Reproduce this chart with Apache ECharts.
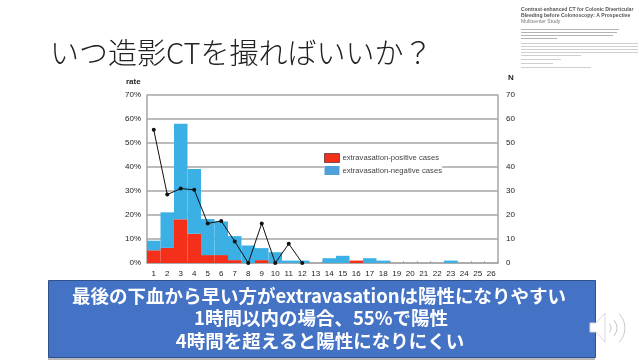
<!DOCTYPE html>
<html>
<head>
<meta charset="utf-8">
<style>
html, body { margin: 0; padding: 0; background: #fff; }
#chart { width: 640px; height: 360px; }
</style>
<script src="https://cdn.jsdelivr.net/npm/echarts@6/dist/echarts.min.js"></script>
</head>
<body>
<div id="chart"></div>
<script>
var hours = ['1','2','3','4','5','6','7','8','9','10','11','12','13','14','15','16','17','18','19','20','21','22','23','24','25','26'];
var positiveCases = [5.3, 6.3, 18.2, 12.2, 3.3, 3.3, 1.2, 0, 1.2, 0, 0, 0, 0, 0, 0, 1, 0, 0, 0, 0, 0, 0, 0, 0, 0, 0];
var negativeCases = [4, 14.8, 39.8, 27, 15, 14, 10, 7.3, 5, 4.5, 1, 1, 0, 2, 3, 0, 2, 1, 0, 0, 0, 0, 1, 0, 0, 0];
var positiveRate = [55.5, 28.5, 31, 30.5, 16.5, 17.5, 9, 0, 16.5, 0, 8, 0];
var bannerLines = ['最後の下血から早い方がextravasationは陽性になりやすい', '1時間以内の場合、55%で陽性', '4時間を超えると陽性になりにくい'];
var paperTitle = ['Contrast-enhanced CT for Colonic Diverticular', 'Bleeding before Colonoscopy: A Prospective'];
var paperTitleEnd = 'Multicenter Study';

var jpFont = '"Noto Sans CJK JP", sans-serif';
var chart = echarts.init(document.getElementById('chart'));

var option = {
    backgroundColor: '#fff',
    animation: false,
    textStyle: { fontFamily: 'Liberation Sans, sans-serif' },
    grid: { left: 147, right: 142, top: 95, bottom: 97 },
    legend: {
        left: 324,
        top: 153,
        padding: 0,
        orient: 'vertical',
        backgroundColor: '#fff',
        itemWidth: 15,
        itemHeight: 9,
        itemGap: 3,
        textStyle: { fontSize: 7.7, color: '#444', padding: [0, 0, 0, -2] },
        data: [
            { name: 'extravasation-positive cases', icon: 'rect', itemStyle: { color: '#f5301a', borderColor: '#7a4a50', borderWidth: 1 } },
            { name: 'extravasation-negative cases', icon: 'rect', itemStyle: { color: '#4f9fd8' } }
        ]
    },
    xAxis: {
        type: 'category',
        data: hours,
        axisLine: { lineStyle: { color: '#a6a6a6', width: 1.5 } },
        axisTick: { show: true, length: 2, inside: true, lineStyle: { color: '#a6a6a6' } },
        axisLabel: { interval: 0, fontSize: 8, color: '#222', margin: 7 }
    },
    yAxis: [
        {
            type: 'value', min: 0, max: 70, interval: 10,
            axisLine: { show: true, lineStyle: { color: '#a6a6a6', width: 1.5 } },
            axisTick: { show: false },
            axisLabel: { formatter: '{value}%', fontSize: 8, color: '#222', margin: 6 },
            splitLine: { lineStyle: { color: '#a6a6a6', width: 1.5 } }
        },
        {
            type: 'value', min: 0, max: 70, interval: 10, position: 'right',
            axisLine: { show: true, lineStyle: { color: '#a6a6a6', width: 1.5 } },
            axisTick: { show: false },
            axisLabel: { fontSize: 8, color: '#222', margin: 8 },
            splitLine: { show: false }
        }
    ],
    series: [
        {
            name: 'extravasation-positive cases',
            type: 'bar',
            stack: 'cases',
            yAxisIndex: 1,
            barWidth: '100%',
            itemStyle: { color: '#f5301a' },
            data: positiveCases
        },
        {
            name: 'extravasation-negative cases',
            type: 'bar',
            stack: 'cases',
            yAxisIndex: 1,
            barWidth: '100%',
            itemStyle: { color: '#3bb0e4' },
            data: negativeCases
        },
        {
            name: 'rate',
            type: 'line',
            yAxisIndex: 0,
            symbol: 'circle',
            symbolSize: 4,
            lineStyle: { color: '#111', width: 1 },
            itemStyle: { color: '#111' },
            data: positiveRate
        }
    ],
    graphic: [
        { type: 'text', x: 50, y: 53, style: { text: 'いつ造影CTを撮ればいいか？', font: '300 29px ' + jpFont, fill: '#222', textVerticalAlign: 'middle' } },
        { type: 'text', left: 126, top: 78, style: { text: 'rate', font: 'bold 8px Liberation Sans', fill: '#222' } },
        { type: 'text', left: 508, top: 74, style: { text: 'N', font: 'bold 8px Liberation Sans', fill: '#222' } },
        { type: 'text', x: 521, y: 10, style: { text: paperTitle[0], font: 'bold 5.1px Liberation Sans', fill: '#555', textVerticalAlign: 'middle' } },
        { type: 'text', x: 521, y: 15.5, style: { text: paperTitle[1], font: 'bold 5.1px Liberation Sans', fill: '#555', textVerticalAlign: 'middle' } },
        { type: 'text', x: 521, y: 21.5, style: { text: paperTitleEnd, font: '5.1px Liberation Sans', fill: '#777', textVerticalAlign: 'middle' } },
        { type: 'rect', z: 4, shape: { x: 48, y: 357, width: 547, height: 3 }, style: { fill: '#b8b8b8' } },
        { type: 'rect', z: 5, shape: { x: 48.5, y: 280.5, width: 547, height: 77 }, style: { fill: '#4472c4', stroke: '#2f528f', lineWidth: 1 } },
        { type: 'text', z: 6, x: 319, y: 296, style: { text: bannerLines[0], font: 'bold 18.5px ' + jpFont, fill: '#fff', textAlign: 'center', textVerticalAlign: 'middle' } },
        { type: 'text', z: 6, x: 321, y: 318, style: { text: bannerLines[1], font: 'bold 18.5px ' + jpFont, fill: '#fff', textAlign: 'center', textVerticalAlign: 'middle' } },
        { type: 'text', z: 6, x: 320, y: 341, style: { text: bannerLines[2], font: 'bold 18.5px ' + jpFont, fill: '#fff', textAlign: 'center', textVerticalAlign: 'middle' } },
        { type: 'polygon', z: 7, shape: { points: [[590, 323], [596, 323], [605, 313], [605, 342], [596, 332], [590, 332]] }, style: { fill: '#fff', stroke: '#d8d8d8' } },
        { type: 'arc', z: 7, shape: { cx: 605, cy: 328, r: 6, startAngle: -0.75, endAngle: 0.75 }, style: { stroke: '#c8c8c8', fill: 'none', lineWidth: 1 } },
        { type: 'arc', z: 7, shape: { cx: 605, cy: 328, r: 12, startAngle: -0.75, endAngle: 0.75 }, style: { stroke: '#c8c8c8', fill: 'none', lineWidth: 1 } },
        { type: 'arc', z: 7, shape: { cx: 605, cy: 328, r: 20, startAngle: -0.78, endAngle: 0.78 }, style: { stroke: '#c8c8c8', fill: 'none', lineWidth: 1 } }
    ]
};

// the authors and abstract in the thumbnail are an unreadable blur, so grey strokes stand in for them
var blurLines = [
    [29, 98, '#b4b4b4'], [32, 96, '#b4b4b4'], [35, 92, '#b4b4b4'], [38, 36, '#b4b4b4'],
    [43, 117, '#cfcfcf'], [46, 117, '#cfcfcf'], [49, 117, '#cfcfcf'], [52, 117, '#cfcfcf'],
    [55, 60, '#cfcfcf'], [59, 40, '#cfcfcf'], [63, 32, '#cfcfcf'], [67, 70, '#cfcfcf']
];
blurLines.forEach(function (b) {
    option.graphic.push({ type: 'rect', shape: { x: 521, y: b[0], width: b[1], height: 1 }, style: { fill: b[2] } });
});

chart.setOption(option);
</script>
</body>
</html>
